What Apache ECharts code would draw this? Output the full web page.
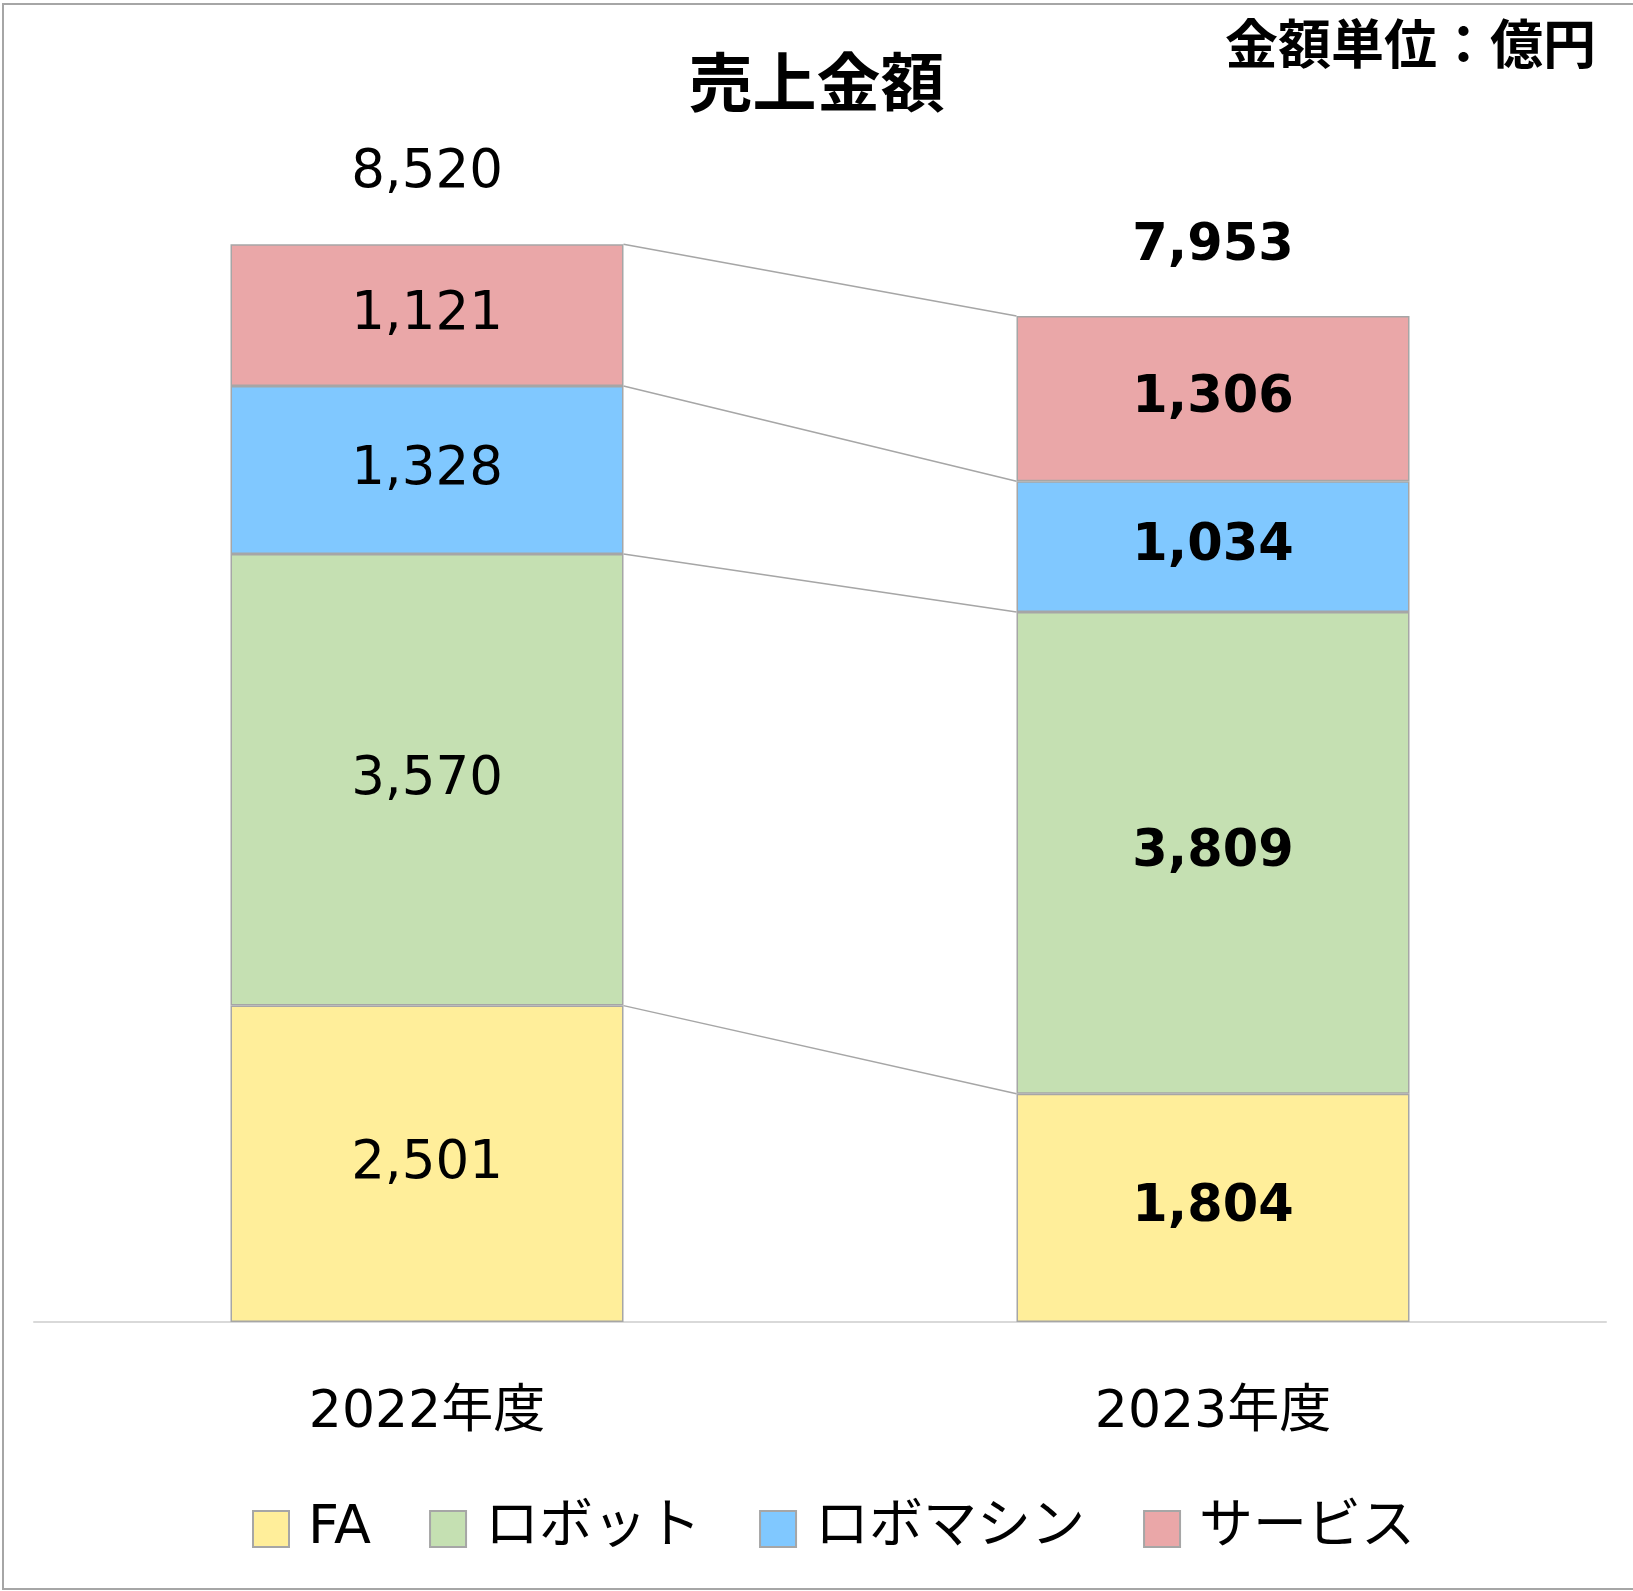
<!DOCTYPE html>
<html lang="ja">
<head>
    <meta charset="UTF-8">
    <title>売上金額</title>
    <style>
        html, body { margin: 0; padding: 0; background: #fff; }
        #main { width: 1633px; height: 1591px; }
    </style>
</head>
<body>
    <div id="main"></div>
    <script src="https://cdn.jsdelivr.net/npm/echarts@6/dist/echarts.min.js"></script>
    <script>
        var years = ['2022年度', '2023年度'];
        var seriesNames = ['FA', 'ロボット', 'ロボマシン', 'サービス'];
        var faValues = [2501, 1804];
        var robotValues = [3570, 3809];
        var robomachineValues = [1328, 1034];
        var serviceValues = [1121, 1306];
        var totals = [8520, 7953];
        var colors = ['#FFEE9A', '#C5E0B2', '#80C8FF', '#EAA7A8'];

        var font = "'DejaVu Sans', 'Noto Sans CJK JP', sans-serif";
        var allValues = [faValues, robotValues, robomachineValues, serviceValues];

        function fmt(v) {
            return String(v).replace(/\B(?=(\d{3})+(?!\d))/g, ',');
        }

        // 2023年度 の数字は太字
        function labelStyleOf(i) {
            return i === 1 ? { fontWeight: 'bold', fontSize: 51 } : { fontWeight: 'normal', fontSize: 53 };
        }

        var barSeries = seriesNames.map(function (name, s) {
            return {
                name: name,
                type: 'bar',
                stack: 'total',
                barWidth: '50%',
                color: colors[s],
                itemStyle: {
                    borderColor: '#a6a6a6',
                    borderWidth: 1.5
                },
                label: {
                    show: true,
                    position: 'inside',
                    fontSize: 53,
                    fontFamily: font,
                    color: '#000',
                    formatter: function (p) { return fmt(p.value); }
                },
                data: allValues[s].map(function (v, i) {
                    return { value: v, label: labelStyleOf(i) };
                })
            };
        });

        // 各区切りの累積値（つなぎ線用）
        var lineData = [];
        var cum0 = 0, cum1 = 0;
        allValues.forEach(function (arr) {
            cum0 += arr[0];
            cum1 += arr[1];
            lineData.push([0, cum0, cum1]);
        });

        var option = {
            backgroundColor: '#fff',
            animation: false,
            title: [{
                text: '売上金額',
                left: 'center',
                top: 52,
                textStyle: { fontSize: 64, fontWeight: 'bold', fontFamily: font, color: '#000' }
            }, {
                text: '金額単位：億円',
                right: 32,
                top: 19,
                textStyle: { fontSize: 53, fontWeight: 'bold', fontFamily: font, color: '#000' }
            }],
            legend: {
                data: seriesNames,
                left: 247,
                top: 1497,
                icon: 'rect',
                itemWidth: 36,
                itemHeight: 36,
                itemGap: 58,
                itemStyle: { borderColor: '#a6a6a6', borderWidth: 2 },
                textStyle: {
                    fontSize: 54,
                    fontFamily: font,
                    color: '#000',
                    padding: [0, 0, 12, 14]
                }
            },
            grid: {
                left: 34,
                right: 27,
                top: 57,
                bottom: 269
            },
            xAxis: {
                type: 'category',
                data: years,
                axisTick: { show: false },
                axisLine: { lineStyle: { color: '#d9d9d9', width: 2 } },
                axisLabel: {
                    margin: 65,
                    fontSize: 52,
                    fontFamily: font,
                    color: '#000'
                }
            },
            yAxis: {
                type: 'value',
                min: 0,
                max: 10000,
                show: false,
                splitLine: { show: false }
            },
            graphic: [{
                type: 'rect',
                shape: { x: 3, y: 4, width: 1660, height: 1585 },
                style: { fill: 'none', stroke: '#a6a6a6', lineWidth: 2 },
                silent: true
            }],
            series: barSeries.concat([{
                name: 'connect',
                type: 'custom',
                silent: true,
                encode: { x: 0, y: 1 },
                renderItem: function (params, api) {
                    var p0 = api.coord([0, api.value(1)]);
                    var p1 = api.coord([1, api.value(2)]);
                    var halfW = api.size([1, 0])[0] * 0.25;
                    return {
                        type: 'line',
                        shape: { x1: p0[0] + halfW, y1: p0[1], x2: p1[0] - halfW, y2: p1[1] },
                        style: { stroke: '#a6a6a6', lineWidth: 1.5 }
                    };
                },
                data: lineData
            }, {
                name: 'total',
                type: 'scatter',
                symbolSize: 0,
                silent: true,
                itemStyle: { opacity: 1 },
                label: {
                    show: true,
                    position: 'top',
                    distance: 44,
                    fontSize: 53,
                    fontFamily: font,
                    color: '#000',
                    opacity: 1,
                    formatter: function (p) { return fmt(p.value); }
                },
                data: totals.map(function (v, i) {
                    return { value: v, label: labelStyleOf(i) };
                })
            }])
        };

        var myChart = echarts.init(document.getElementById('main'));
        myChart.setOption(option);
    </script>
</body>
</html>
